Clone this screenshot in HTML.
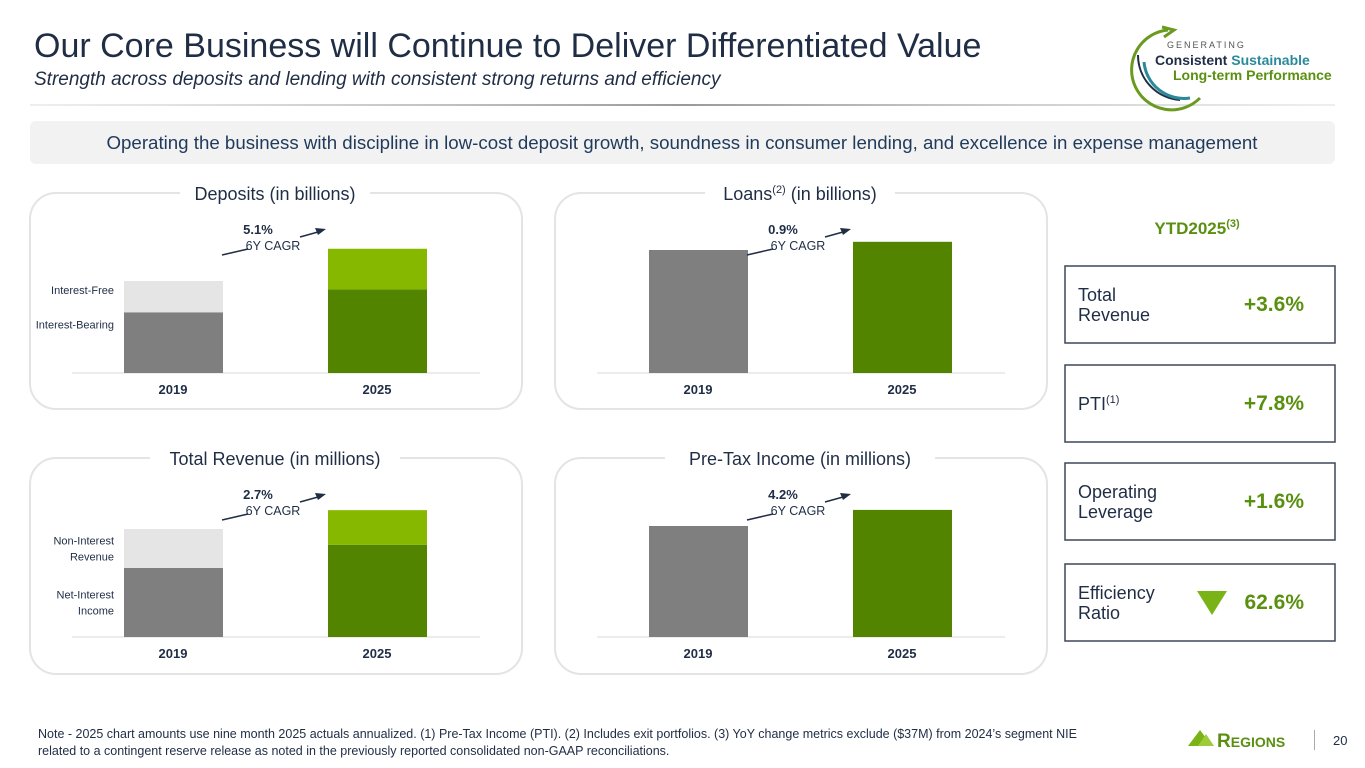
<!DOCTYPE html>
<html><head><meta charset="utf-8"><style>
body{margin:0;width:1365px;height:768px;overflow:hidden;background:#fff;font-family:"Liberation Sans",sans-serif;}
svg{display:block}
text{font-family:"Liberation Sans",sans-serif}
</style></head><body>
<svg id="s" width="1365" height="768" viewBox="0 0 1365 768">
<defs><linearGradient id="sep" x1="0" x2="1"><stop offset="0" stop-color="#c8c8c8" stop-opacity="0.3"/><stop offset="0.5" stop-color="#9a9a9a"/><stop offset="1" stop-color="#c8c8c8" stop-opacity="0.3"/></linearGradient></defs>
<text x="34" y="57" font-size="34" fill="#1f2d45">Our Core Business will Continue to Deliver Differentiated Value</text>
<text x="34" y="85" font-size="19" font-style="italic" fill="#1f2d45">Strength across deposits and lending with consistent strong returns and efficiency</text>
<rect x="30" y="104" width="1305" height="2" fill="url(#sep)"/>
<g>
<path d="M1168 30 A40 40 0 1 0 1200 98" fill="none" stroke="#6a9a1f" stroke-width="3"/>
<path d="M1162 27 L1174 30 L1164 37" fill="none" stroke="#6a9a1f" stroke-width="3"/>
<path d="M1138 55 A45 45 0 0 0 1180 100" fill="none" stroke="#1f2d45" stroke-width="2"/>
<path d="M1144 62 A40 40 0 0 0 1190 98" fill="none" stroke="#2a8a9a" stroke-width="3"/>
<text x="1167" y="48" font-size="9" letter-spacing="2" fill="#555">GENERATING</text>
<text x="1155" y="65" font-size="14" font-weight="bold" fill="#1f2d45">Consistent <tspan fill="#2a8a9a">Sustainable</tspan></text>
<text x="1173" y="80" font-size="14" font-weight="bold" fill="#5a9010">Long-term Performance</text>
</g>
<rect x="30" y="121" width="1305" height="43" rx="6" fill="#f2f2f2"/>
<text x="682" y="149" font-size="18.7" text-anchor="middle" fill="#1f3a5a">Operating the business with discipline in low-cost deposit growth, soundness in consumer lending, and excellence in expense management</text>
<g id="charts"></g>
<text x="1197" y="234" font-size="17" font-weight="bold" text-anchor="middle" fill="#5a9010">YTD2025<tspan font-size="11" dy="-7">(3)</tspan></text>
<g id="kpis"></g>
<text font-size="12.5" fill="#1f2d45"><tspan x="38" y="738">Note - 2025 chart amounts use nine month 2025 actuals annualized.  (1) Pre-Tax Income (PTI).  (2) Includes exit portfolios.  (3) YoY change metrics exclude ($37M) from 2024’s segment NIE</tspan><tspan x="38" y="755">related to a contingent reserve release as noted in the previously reported consolidated non-GAAP reconciliations.</tspan></text>
<g>
<polygon points="1188,746 1200,730 1212,746" fill="#7ab317"/>
<polygon points="1198,746 1206,734 1214,746" fill="#9ccc3a"/>
<text x="1217" y="747" font-size="19" font-family="Liberation Serif" fill="#5a9010" font-weight="bold">R<tspan font-size="14">EGIONS</tspan></text>
<rect x="1314" y="730" width="1" height="20" fill="#aaa"/>
<text x="1333" y="745" font-size="13" fill="#1f2d45">20</text>
</g>
</svg>
<script>
const NS='http://www.w3.org/2000/svg';
const categories=['2019','2025'];
const depositsBase=[64,88];
const depositsTop=[33,43];
const loansVals=[90,96];
const revenueBase=[3770,5030];
const revenueTop=[2130,1900];
const ptiVals=[2000,2290];
const cagrLabels=['5.1%','0.9%','2.7%','4.2%'];
const chartTitles=['Deposits (in billions)','Loans','Total Revenue (in millions)','Pre-Tax Income (in millions)'];
const kpiLabels=[['Total','Revenue'],['PTI'],['Operating','Leverage'],['Efficiency','Ratio']];
const kpiValues=['+3.6%','+7.8%','+1.6%','62.6%'];

function mk(tag,attrs,parent){const e=document.createElementNS(NS,tag);for(const k in attrs)e.setAttribute(k,attrs[k]);parent.appendChild(e);return e;}
const g=document.getElementById('charts');
const panels=[
 {x:30,y:193,title:0,base:depositsBase,top:depositsTop,scale:92/97,labels:['Interest-Free','Interest-Bearing'],name:'deposits',topAlign:true},
 {x:555,y:193,title:1,base:loansVals,top:null,scale:123/90,name:'loans'},
 {x:30,y:458,title:2,base:revenueBase,top:revenueTop,scale:108/5900,labels:['Non-Interest|Revenue','Net-Interest|Income'],name:'revenue'},
 {x:555,y:458,title:3,base:ptiVals,top:null,scale:111/2000,name:'pti'}];
panels.forEach((p,pi)=>{
 const pg=mk('g',{},g);
 
 
 const box=mk('rect',{x:p.x,y:p.y,width:492,height:216,rx:26,fill:'none',stroke:'#e4e4e4','stroke-width':2},pg);
 
 
 const cx=p.x+245;
 const tw=pi==1?190:(pi==0?190:(pi==2?250:270));
 mk('rect',{x:cx-tw/2,y:p.y-12,width:tw,height:24,fill:'#fff'},pg);
 const t=mk('text',{x:cx,y:p.y+7,'font-size':18,'text-anchor':'middle',fill:'#1f2d45'},pg);
 
 
 if(pi==1){t.innerHTML='Loans<tspan font-size="11" dy="-7">(2)</tspan><tspan dy="7"> (in billions)</tspan>';}else t.textContent=chartTitles[p.title];
 const baseY=p.y+(pi<2?180:179);
 const bl=mk('line',{x1:p.x+42,x2:p.x+450,y1:baseY,y2:baseY,stroke:'#e6e6e6','stroke-width':1.5},pg);
 
 
 const xs=[p.x+94,p.x+298];
 categories.forEach((c,i)=>{
  const hb=p.base[i]*p.scale;
  const dark=i==0?'#7f7f7f':'#538400', light=i==0?'#e5e5e5':'#87b800';
  const r=mk('rect',{x:xs[i],y:baseY-hb,width:99,height:hb,fill:dark},pg);
  
  
  if(p.top){const ht=p.top[i]*p.scale;
   const r2=mk('rect',{x:xs[i],y:baseY-hb-ht,width:99,height:ht,fill:light},pg);
   
   }
  const lt=mk('text',{x:xs[i]+49,y:baseY+21,'font-size':13,'font-weight':'bold','text-anchor':'middle',fill:'#1f2d45'},pg);
  
  
  lt.textContent=c;
 });
 if(p.labels){
  const hb=p.base[0]*p.scale, ht=p.top[0]*p.scale;
  const ys=p.topAlign?[baseY-hb-ht+9,baseY-hb+12]:[baseY-hb-ht/2,baseY-hb/2];
  [[ys[0],p.labels[0]],[ys[1],p.labels[1]]].forEach((L,k)=>{
   const parts=L[1].split('|');
   const tt=mk('text',{x:p.x+84,'font-size':11,'text-anchor':'end',fill:'#1f2d45'},pg);
   
   
   parts.forEach((s,j)=>{const ts=mk('tspan',{x:p.x+84,y:L[0]+4+(j-(parts.length-1)/2)*16},tt);ts.textContent=s;});
  });
 }
 const ay=p.y+41;
 const ct=mk('text',{x:p.x+228,y:ay,'font-size':13,'font-weight':'bold','text-anchor':'middle',fill:'#1f2d45'},pg);
 
 
 ct.textContent=cagrLabels[pi];
 const cl=mk('text',{x:p.x+243,y:ay+16,'font-size':12.5,'text-anchor':'middle',fill:'#1f2d45'},pg);
 
 
 cl.textContent='6Y CAGR';
 mk('line',{x1:p.x+192,y1:ay+21,x2:p.x+218,y2:ay+15,stroke:'#1f2d45','stroke-width':1.5},pg);
 const ar=mk('line',{x1:p.x+270,y1:ay+3,x2:p.x+288,y2:ay-2,stroke:'#1f2d45','stroke-width':1.5},pg);
 
 
 mk('polygon',{points:`${p.x+296},${ay-5} ${p.x+285},${ay-6} ${p.x+288},${ay+1}`,fill:'#1f2d45'},pg);
});
const kg=document.getElementById('kpis');
const kys=[266,365,463,564];
kpiLabels.forEach((lab,i)=>{
 const y=kys[i];
 const b=mk('rect',{x:1065,y:y,width:270,height:77,fill:'#fff',stroke:'#3d4658','stroke-width':1.5},kg);
 
 
 const t=mk('text',{'font-size':18,fill:'#1f2d45'},kg);
 
 
 lab.forEach((s,j)=>{const ts=mk('tspan',{x:1078,y:y+45+(j-(lab.length-1)/2)*20},t);ts.textContent=s;});
 if(i==1){mk('tspan',{'font-size':11,dy:-7},t).textContent='(1)';}
 const v=mk('text',{x:1304,y:y+45,'font-size':21,'font-weight':'bold','text-anchor':'end',fill:'#5a9010'},kg);
 
 
 v.textContent=kpiValues[i];
 if(i==3){const tri=mk('polygon',{points:`1197,${y+27} 1227,${y+27} 1212,${y+51}`,fill:'#7ab317'},kg);
  
  }
});
</script>
</body></html>
